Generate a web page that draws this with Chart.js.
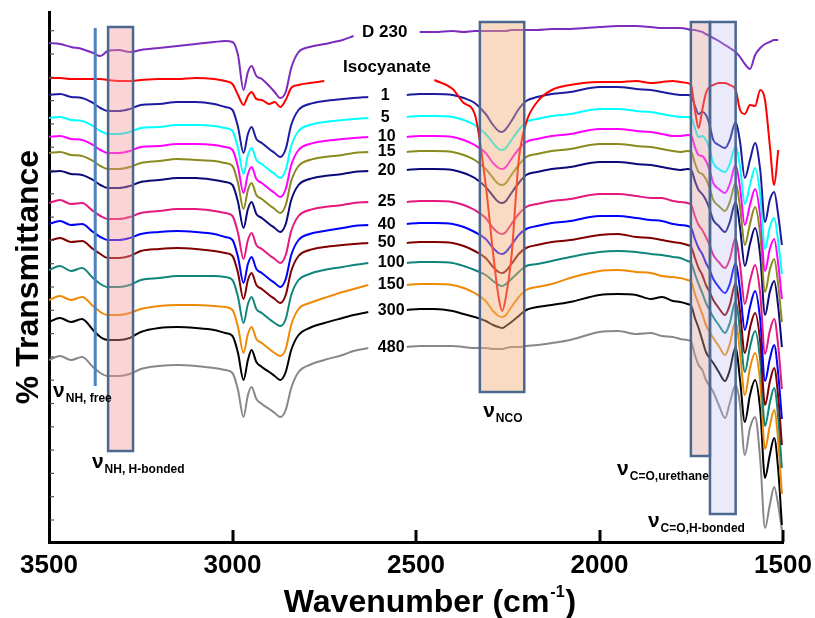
<!DOCTYPE html>
<html><head><meta charset="utf-8">
<script src="https://cdn.jsdelivr.net/npm/chart.js@4.4.1/dist/chart.umd.min.js"></script>
<style>html,body{margin:0;padding:0;background:#fff}canvas{display:block}</style>
</head><body>
<canvas id="c" width="815" height="618"></canvas>
<script>
// ---- data (wavenumber grid, cm-1) ----
const wavenumbers = [3500,3470,3440,3410,3380,3360,3340,3310,3280,3250,3200,3150,3100,3050,3020,3000,2985,2970,2958,2948,2935,2920,2900,2885,2870,2855,2840,2820,2790,2750,2700,2670,2630,2580,2525,2490,2450,2400,2370,2340,2310,2290,2275,2265,2255,2240,2220,2200,2170,2130,2080,2000,1950,1900,1860,1830,1800,1780,1760,1750,1740,1730,1720,1710,1700,1690,1675,1658,1645,1629,1617,1604,1590,1576,1562,1549,1536,1524,1513,1503];
const xTickValues = [3500,3000,2500,2000,1500];
const seriesNames = ['D 230','Isocyanate','1','5','10','15','20','25','40','50','100','150','300','480'];
// offset % transmittance (arbitrary units)
const tD230 = [499,498,495,493,489,486,491,492,490,492, 494,496,498,500,501,500,487,452,470,476, 466,463,456,450,444,450,474,490,495,498, 502,506,null,null,null,510,510,511,510,511, 511,511,511,511,511,512,512,512,512,513, 513,515,516,516,515,514,514,514,513,512, 512,511,510,508,506,504,501,497,494,490, 485,478,473,487,494,498,500,502,502,null];
const tIsocyanate = [464,464,463,463,463,463,462,461,461,462, 463,463,464,463,461,458,447,437,446,450, 443,442,438,440,435,442,454,457,459,461, null,null,null,null,null,null,462,453,439,428, 357,289,245,231,245,285,382,419,440,452, 457,460,460,461,459,460,461,460,459,456, 432,414,432,449,455,457,459,459,457,452, 432,428,437,436,452,442,397,357,392,null];
const t1 = [447,448,445,444,439,434,431,431,433,437, 438,440,440,438,435,432,415,389,408,415, 403,399,393,389,385,393,417,432,438,441, 443,444,445,null,447,448,448,447,444,439, 428,417,411,410,413,421,433,441,445,448, 450,455,455,453,452,450,448,447,447,446, 436,428,430,427,417,402,397,394,402,420, 400,364,382,399,372,320,342,350,327,297];
const t5 = [424,425,422,421,416,411,408,408,410,414, 415,417,417,416,414,411,394,368,387,394, 382,378,372,368,364,372,396,411,417,420, 422,423,424,null,425,426,426,425,422,417, 408,399,393,392,394,402,412,420,423,426, 428,433,433,431,430,428,426,425,425,424, 414,405,406,402,393,379,373,370,378,396, 375,338,357,374,347,293,315,324,300,268];
const t10 = [405,406,403,402,397,392,389,389,391,395, 396,398,398,397,395,392,375,349,368,375, 363,359,353,349,345,353,377,392,398,401, 403,404,405,null,405,406,406,405,402,397, 389,379,374,373,375,383,393,400,403,406, 408,413,413,411,410,408,406,406,407,406, 395,387,386,381,372,359,353,349,358,377, 354,317,337,353,326,271,293,303,278,243];
const t15 = [389,390,387,386,381,376,373,373,375,379, 381,383,382,381,379,376,359,333,352,359, 347,343,337,333,329,337,361,376,382,385, 387,389,390,null,390,391,391,390,387,382, 373,364,358,357,359,367,377,385,388,391, 393,398,398,396,395,393,391,390,391,390, 379,370,368,363,354,342,336,331,340,359, 335,297,318,335,307,250,272,283,257,220];
const t20 = [370,371,368,367,362,357,354,354,356,360, 362,364,364,362,360,357,340,314,333,340, 328,324,318,314,310,318,342,357,363,366, 368,370,371,null,372,373,373,372,369,364, 355,346,340,339,341,349,359,367,370,373, 375,380,380,378,377,375,373,372,373,372, 361,352,348,342,333,322,316,310,320,340, 314,276,298,314,286,227,250,261,235,195];
const t25 = [339,342,338,339,331,326,323,323,325,329, 331,333,333,331,329,326,309,283,302,309, 297,293,287,283,279,287,311,326,332,335, 337,339,340,null,340,341,341,340,337,332, 324,314,309,308,310,318,328,335,338,341, 343,348,348,346,344,344,341,340,339,337, 326,317,312,305,297,287,280,274,283,304, 277,238,261,277,248,188,211,223,196,153];
const t40 = [318,321,317,318,310,305,302,302,304,308, 310,311,310,308,305,302,285,259,278,285, 273,269,263,259,255,263,287,302,308,311, 314,316,317,null,318,319,319,318,315,310, 303,294,289,288,290,297,307,313,316,319, 321,326,326,324,322,321,318,317,316,314, 303,294,288,279,272,263,255,249,258,279, 252,212,235,251,222,161,183,197,168,123];
const t50 = [301,304,300,301,293,288,284,284,286,291, 293,294,293,291,289,286,269,243,262,269, 257,253,247,243,239,247,271,286,292,295, 297,298,299,null,299,300,300,299,296,291, 284,275,270,269,271,278,288,294,297,300, 302,307,308,305,304,302,300,299,297,295, 284,274,267,257,250,242,234,227,237,259, 230,189,214,229,200,137,160,174,145,97];
const t100 = [272,276,271,274,264,258,255,255,257,262, 264,266,266,266,265,262,245,219,238,245, 233,229,223,219,216,223,247,262,268,272, 275,277,279,null,279,280,280,279,276,272, 267,261,257,256,258,263,270,276,278,281, 285,290,291,290,288,287,285,284,281,279, 268,258,249,239,232,225,217,209,219,241, 211,170,195,211,181,116,139,154,124,74];
const t150 = [242,246,242,245,236,230,227,227,229,233, 236,237,237,236,235,232,215,189,208,215, 203,199,193,189,186,193,217,233,239,244, 250,253,257,null,257,258,258,257,254,249, 241,231,226,225,227,235,245,252,255,258, 264,271,272,270,269,266,265,264,262,260, 248,238,228,217,210,204,196,187,198,221, 189,147,174,189,159,93,116,132,101,48];
const t300 = [220,224,220,223,212,205,202,202,204,210, 214,215,214,212,209,206,189,162,182,192, 180,175,170,166,162,170,192,207,214,219, 224,227,230,null,232,233,233,231,228,225, 221,217,215,214,216,220,226,232,235,237, 240,247,248,247,243,245,241,240,238,236, 224,214,202,190,184,179,170,161,172,195, 162,120,147,162,132,64,87,104,72,17];
const t480 = [182,186,182,185,175,169,166,166,168,173, 176,177,176,174,172,169,152,125,147,155, 143,138,133,129,125,132,154,170,177,182, 187,191,194,null,195,196,196,196,195,194, 194,193,193,193,194,195,195,196,197,199, 202,210,211,208,209,206,205,203,202,200, 187,177,172,162,156,150,137,124,139,157, 137,87,114,125,82,14,37,55,37,12];

const seriesValues = [tD230,tIsocyanate,t1,t5,t10,t15,t20,t25,t40,t50,t100,t150,t300,t480];
const seriesColors = ['#7b2cbf','#ff0000','#1c1ca0','#00ffff','#ff00ff','#8a8a1e','#0a0a78','#e4187e','#0000ff','#800000','#10857a','#ef8a06','#000000','#888888'];

const FONT = '"Liberation Sans", Arial, Helvetica, sans-serif';

// annotation layout (not data)
const bands = [
  {from:3339,to:3271,top:515,bottom:91,fill:'rgba(245,150,150,0.40)'},
  {from:2326,to:2205,top:520,bottom:150,fill:'rgba(240,175,120,0.45)'},
  {from:1751,to:1699,top:520,bottom:86,fill:'rgba(220,160,160,0.40)'},
  {from:1699,to:1629,top:520,bottom:28,fill:'rgba(185,185,238,0.30)'}
];
const freeNH = {wn:3374, top:514, bottom:156};
const nuLabels = [
  {wn:3489, v:145, sub:'NH, free'},
  {wn:3383, v:74, sub:'NH, H-bonded'},
  {wn:2317, v:125, sub:'NCO'},
  {wn:1952, v:67, sub:'C=O,urethane'},
  {wn:1868, v:15, sub:'C=O,H-bonded'}
];
const labelLayout = [
  {wn:2647, dy:-1.5, size:17},
  {wn:2699, dy:-13.5, size:17},
  {wn:2596, dy:0, size:16},{wn:2596, dy:0, size:16},
  {wn:2604, dy:0, size:16},{wn:2604, dy:0, size:16},{wn:2604, dy:0, size:16},{wn:2604, dy:0, size:16},
  {wn:2604, dy:0, size:16},{wn:2604, dy:0, size:16},{wn:2604, dy:0, size:16},{wn:2604, dy:0, size:16},
  {wn:2604, dy:0, size:16},{wn:2604, dy:0, size:16}
];

const datasets = seriesNames.map((n,i)=>({
  label:n,
  data: wavenumbers.map((w,j)=>({x:w, y:seriesValues[i][j]})),
  borderColor: seriesColors[i],
  borderWidth: 2,
  pointRadius: 0,
  fill:false,
  spanGaps:false,
  cubicInterpolationMode:'monotone'
}));

const overlay = {
  id:'overlay',
  afterDatasetsDraw(chart){
    const {ctx, scales:{x,y}} = chart;
    ctx.save();
    bands.forEach(b=>{
      const x1=x.getPixelForValue(b.from), x2=x.getPixelForValue(b.to);
      const y1=y.getPixelForValue(b.top), y2=y.getPixelForValue(b.bottom);
      ctx.fillStyle=b.fill; ctx.fillRect(x1,y1,x2-x1,y2-y1);
    });
    ctx.strokeStyle='#4a6890'; ctx.lineWidth=2.5;
    bands.forEach(b=>{
      const x1=x.getPixelForValue(b.from), x2=x.getPixelForValue(b.to);
      const y1=y.getPixelForValue(b.top), y2=y.getPixelForValue(b.bottom);
      ctx.strokeRect(x1,y1,x2-x1,y2-y1);
    });
    ctx.strokeStyle='#4f81bd'; ctx.lineWidth=3;
    ctx.beginPath();
    ctx.moveTo(x.getPixelForValue(freeNH.wn), y.getPixelForValue(freeNH.top));
    ctx.lineTo(x.getPixelForValue(freeNH.wn), y.getPixelForValue(freeNH.bottom));
    ctx.stroke();
    ctx.strokeStyle='#000'; ctx.lineWidth=3;
    const ab = chart.chartArea.bottom;
    xTickValues.forEach(v=>{ if(v===3500) return; const px=Math.round(x.getPixelForValue(v));
      ctx.beginPath(); ctx.moveTo(px,ab); ctx.lineTo(px,ab-12); ctx.stroke(); });
    ctx.lineWidth=1.2; ctx.strokeStyle='#555';
    for(let k=0;k<22;k++){ const py=y.getPixelForValue(22+23.3*k);
      ctx.beginPath(); ctx.moveTo(chart.chartArea.left+1,py); ctx.lineTo(chart.chartArea.left+5,py); ctx.stroke(); }
    ctx.fillStyle='#000'; ctx.textBaseline='middle'; ctx.textAlign='left';
    seriesValues.forEach((arr,i)=>{
      let a=-1,b=-1;
      for(let j=0;j<arr.length;j++){ if(arr[j]===null){ a=j-1; b=j; while(b<arr.length && arr[b]===null) b++; break; } }
      const level=(arr[a]+arr[b])/2;
      const L=labelLayout[i];
      ctx.font='bold '+L.size+'px '+FONT;
      ctx.fillText(seriesNames[i], x.getPixelForValue(L.wn), y.getPixelForValue(level)+L.dy);
    });
    ctx.textBaseline='alphabetic';
    nuLabels.forEach(n=>{
      const px=x.getPixelForValue(n.wn), py=y.getPixelForValue(n.v);
      ctx.font='bold 21px '+FONT;
      ctx.fillText('\u03BD',px,py);
      const w=ctx.measureText('\u03BD').width;
      ctx.font='bold 12px '+FONT;
      ctx.fillText(n.sub,px+w+1,py+5);
    });
    ctx.restore();
  },
  afterDraw(chart){
    const {ctx} = chart;
    ctx.save();
    ctx.fillStyle='#000'; ctx.textBaseline='alphabetic'; ctx.textAlign='left';
    const big='bold 32px '+FONT, small='bold 16px '+FONT;
    ctx.font=big; const w1=ctx.measureText('Wavenumber (cm').width; const w3=ctx.measureText(')').width;
    ctx.font=small; const w2=ctx.measureText('-1').width;
    const total=w1+w2+2+w3;
    let sx=430-total/2; const base=612;
    ctx.font=big; ctx.fillText('Wavenumber (cm',sx,base);
    ctx.font=small; ctx.fillText('-1',sx+w1+1,base-15);
    ctx.font=big; ctx.fillText(')',sx+w1+w2+2,base);
    ctx.restore();
  }
};

new Chart(document.getElementById('c'),{
  type:'line',
  data:{datasets},
  options:{
    responsive:false, animation:false, devicePixelRatio:1,
    layout:{padding:{top:12,right:32,bottom:0,left:0}},
    plugins:{legend:{display:false}, tooltip:{enabled:false}},
    scales:{
      x:{type:'linear', reverse:true, min:1500, max:3500,
        afterBuildTicks(s){ s.ticks = xTickValues.map(v=>({value:v})); },
        ticks:{color:'#000', font:{family:FONT,size:26,weight:'bold'}, padding:8, maxRotation:0, autoSkip:false, callback:v=>String(v)},
        grid:{display:false, drawTicks:false},
        border:{display:true, width:3, color:'#000'},
        afterFit(s){ s.height=76; s.paddingLeft=0; s.paddingRight=0; }
      },
      y:{type:'linear', min:0, max:530,
        ticks:{display:false},
        grid:{display:false, drawTicks:false},
        border:{display:true, width:3, color:'#000'},
        title:{display:true, text:'% Transmittance', color:'#000', font:{family:FONT,size:32,weight:'bold'}, padding:{top:10,bottom:0}},
        afterFit(s){ s.width=49; s.paddingTop=0; s.paddingBottom=0; }
      }
    }
  },
  plugins:[overlay]
});
</script>
</body></html>
